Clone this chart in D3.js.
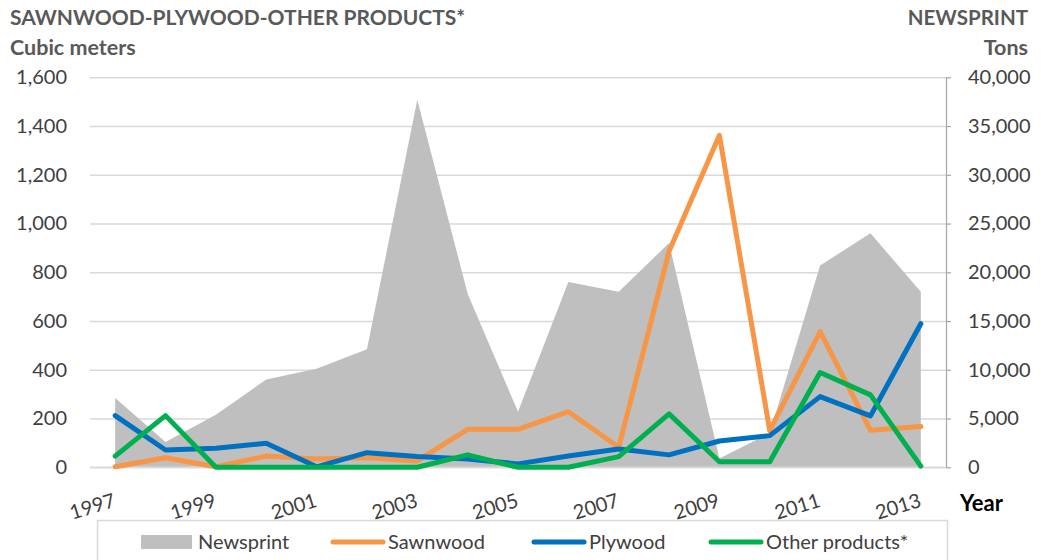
<!DOCTYPE html>
<html>
<head>
<meta charset="utf-8">
<script src="https://cdn.jsdelivr.net/npm/d3@7/dist/d3.min.js"></script>
<style>
  html, body { margin: 0; padding: 0; background: #fff; }
  svg { display: block; font-family: Lato, "Open Sans", sans-serif; }
</style>
</head>
<body>
<svg id="chart" width="1041" height="560"></svg>
<script>
// Years on the category axis
const years = [1997, 1998, 1999, 2000, 2001, 2002, 2003, 2004, 2005, 2006, 2007, 2008, 2009, 2010, 2011, 2012, 2013];
// Newsprint imports, tons (right axis)
const newsprint = [7100, 2600, 5400, 9000, 10100, 12100, 37700, 17800, 5700, 19000, 18000, 23000, 900, 3500, 20700, 24000, 18000];
// Cubic meters (left axis)
const sawnwood = [2, 39, 2, 46, 34, 39, 26, 156, 156, 228, 82, 886, 1362, 150, 557, 152, 167];
const plywood = [212, 71, 78, 99, 2, 60, 44, 34, 14, 46, 75, 51, 108, 130, 290, 211, 589];
const otherProducts = [46, 212, 0, 0, 0, 0, 0, 51, 0, 0, 44, 219, 23, 23, 389, 297, 5];
// Axis ticks
const leftTicks = [0, 200, 400, 600, 800, 1000, 1200, 1400, 1600];
const rightTicks = [0, 5000, 10000, 15000, 20000, 25000, 30000, 35000, 40000];
const labelledYears = [1997, 1999, 2001, 2003, 2005, 2007, 2009, 2011, 2013];

const svg = d3.select("#chart");
const plot = { left: 90, right: 946, top: 77.3, bottom: 467.3 };

const x = d3.scalePoint().domain(years).range([plot.left, plot.right]).padding(0.5);
const yL = d3.scaleLinear().domain([0, 1600]).range([plot.bottom, plot.top]);
const yR = d3.scaleLinear().domain([0, 40000]).range([plot.bottom, plot.top]);
const fmt = d3.format(",");

// Horizontal gridlines
const gridAxis = d3.axisLeft(yL).tickValues(leftTicks).tickSize(-(plot.right - plot.left)).tickFormat("");
const grid = svg.append("g").attr("transform", `translate(${plot.left},0)`).call(gridAxis);
grid.select(".domain").remove();
grid.selectAll("line").attr("stroke", "#d9d9d9").attr("stroke-width", 1.5);

// Newsprint area
const area = d3.area().x((d, i) => x(years[i])).y0(plot.bottom).y1(d => yR(d));
svg.append("path").datum(newsprint).attr("d", area).attr("fill", "#bfbfbf");

// Left axis labels
const leftAxis = d3.axisLeft(yL).tickValues(leftTicks).tickSize(0).tickPadding(23).tickFormat(fmt);
const gl = svg.append("g").attr("transform", `translate(${plot.left},0)`).call(leftAxis);
gl.select(".domain").remove();
gl.selectAll("text").attr("font-size", 20).attr("fill", "#404040").attr("font-family", "Lato");

// Right axis
const rightAxis = d3.axisRight(yR).tickValues(rightTicks).tickSize(5).tickSizeOuter(0).tickPadding(17).tickFormat(fmt);
const gr = svg.append("g").attr("transform", `translate(${plot.right},0)`).call(rightAxis);
gr.select(".domain").attr("stroke", "#a6a6a6").attr("stroke-width", 1.2);
gr.selectAll("line").attr("stroke", "#a6a6a6").attr("stroke-width", 1.2);
gr.selectAll("text").attr("font-size", 20).attr("fill", "#404040").attr("font-family", "Lato");

// Bottom axis line
svg.append("line").attr("x1", plot.left).attr("x2", plot.right)
  .attr("y1", plot.bottom).attr("y2", plot.bottom)
  .attr("stroke", "#d9d9d9").attr("stroke-width", 1.5);

// Category labels (rotated)
const bottomAxis = d3.axisBottom(x).tickValues(labelledYears).tickSize(0).tickFormat(d => String(d));
const gb = svg.append("g").attr("transform", `translate(0,${plot.bottom})`).call(bottomAxis);
gb.select(".domain").remove();
gb.selectAll("text")
  .attr("font-size", 20).attr("fill", "#404040").attr("font-family", "Lato")
  .attr("text-anchor", "end").attr("dy", null).attr("y", 0)
  .attr("transform", "translate(1,39) rotate(-17)");

// Series lines
const series = [
  { name: "Sawnwood", values: sawnwood, color: "#f79646" },
  { name: "Plywood", values: plywood, color: "#0070c0" },
  { name: "Other products*", values: otherProducts, color: "#00b050" }
];
const line = d3.line().x((d, i) => x(years[i])).y(d => yL(d));
series.forEach(s => {
  svg.append("path").datum(s.values).attr("d", line)
    .attr("fill", "none").attr("stroke", s.color).attr("stroke-width", 5)
    .attr("stroke-linejoin", "round").attr("stroke-linecap", "round");
});

// Titles
const titleColor = "#595959";
svg.append("text").attr("x", 10).attr("y", 25).text("SAWNWOOD-PLYWOOD-OTHER PRODUCTS*")
  .attr("font-size", 21).attr("font-weight", "bold").attr("fill", titleColor);
svg.append("text").attr("x", 10).attr("y", 55).text("Cubic meters")
  .attr("font-size", 21.5).attr("font-weight", "bold").attr("fill", titleColor);
svg.append("text").attr("x", 1028).attr("y", 25).attr("text-anchor", "end").text("NEWSPRINT")
  .attr("font-size", 20.5).attr("font-weight", "bold").attr("fill", titleColor);
svg.append("text").attr("x", 1028).attr("y", 55).attr("text-anchor", "end").text("Tons")
  .attr("font-size", 21.5).attr("font-weight", "bold").attr("fill", titleColor);
svg.append("text").attr("x", 960).attr("y", 511).text("Year")
  .attr("font-size", 22).attr("font-weight", "bold").attr("fill", "#000");

// Legend
const legend = svg.append("g");
legend.append("rect").attr("x", 97.5).attr("y", 520.5).attr("width", 850).attr("height", 60)
  .attr("fill", "#fff").attr("stroke", "#d9d9d9").attr("stroke-width", 1.5);
const legendItems = [
  { name: "Newsprint", color: "#bfbfbf", type: "area", x: 141 },
  { name: "Sawnwood", color: "#f79646", type: "line", x: 331 },
  { name: "Plywood", color: "#0070c0", type: "line", x: 532 },
  { name: "Other products*", color: "#00b050", type: "line", x: 709 }
];
const ly = 542;
legendItems.forEach(it => {
  if (it.type === "area") {
    legend.append("rect").attr("x", it.x).attr("y", ly - 7).attr("width", 51).attr("height", 14).attr("fill", it.color);
  } else {
    legend.append("line").attr("x1", it.x + 2).attr("x2", it.x + 52).attr("y1", ly).attr("y2", ly)
      .attr("stroke", it.color).attr("stroke-width", 5).attr("stroke-linecap", "round");
  }
  legend.append("text").attr("x", it.x + 57).attr("y", ly + 7).text(it.name)
    .attr("font-size", 20).attr("fill", "#404040");
});
</script>
</body>
</html>
